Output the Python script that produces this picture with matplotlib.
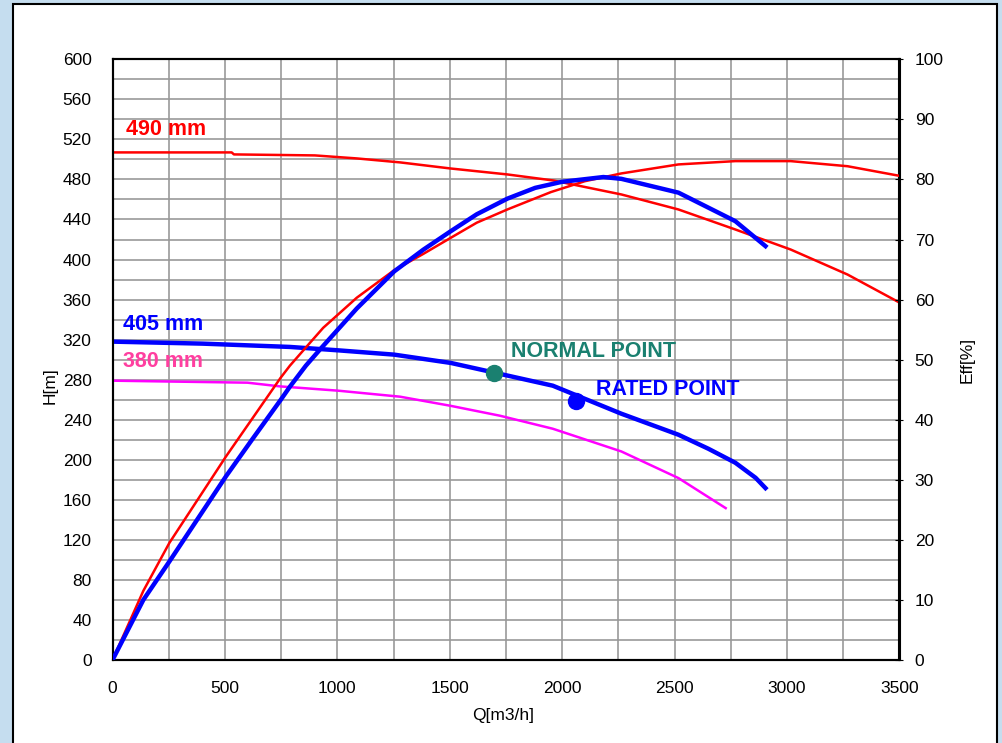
import matplotlib.pyplot as plt
from matplotlib.patches import Rectangle
from matplotlib.ticker import MultipleLocator

plt.rcParams['font.family'] = ['Liberation Sans', 'DejaVu Sans']

# head curves (Q in m3/h, H in m)
q_490 = [0, 530, 540, 900, 1086, 1280, 1501, 1756, 1959, 2263, 2517, 2770, 3016, 3269, 3500]
h_490 = [507, 507, 505, 504, 501, 497, 491, 485, 479, 465, 450, 430, 410, 385, 357]

q_405 = [0, 400, 789, 1004, 1253, 1505, 1679, 1958, 2263, 2517, 2650, 2770, 2860, 2904]
h_405 = [318, 316, 312.7, 309.3, 305, 296.7, 288, 274, 246, 225, 211, 197, 182, 171.7]

q_380 = [0, 600, 745, 1004, 1279, 1501, 1723, 1958, 2263, 2517, 2727]
h_380 = [279, 277, 273.3, 269, 263, 254, 244, 231, 208.3, 181.7, 151.7]

# efficiency curves (%)
qe_490 = [0, 137, 253, 505, 748, 789, 864, 937, 1086, 1253, 1382, 1505, 1620, 1756,
          1950, 2100, 2263, 2517, 2770, 3016, 3269, 3500]
eff_490 = [0, 11.5, 19.5, 33.9, 47, 49, 52.2, 55.3, 60.3, 64.9, 67.6, 70.3, 72.8, 75,
           77.9, 79.7, 81, 82.5, 83.05, 83.05, 82.2, 80.6]

qe_405 = [0, 137, 253, 505, 617, 748, 789, 860, 930, 1086, 1253, 1382, 1505, 1620, 1756,
          1880, 1998, 2183, 2263, 2517, 2770, 2904]
eff_405 = [0, 10, 16.4, 30.6, 36.5, 43.3, 45.5, 49, 52, 58.5, 64.7, 68.3, 71.4, 74.2, 76.8,
           78.6, 79.6, 80.4, 80.1, 77.8, 73.05, 68.9]

normal_pt = (1695, 287)
rated_pt = (2060, 259)

fig = plt.figure(figsize=(10.02, 7.43), dpi=100, facecolor='#c5ddef')
fig.patches.append(Rectangle((13 / 1002, -0.01), 984 / 1002, 1 - 4 / 743 + 0.01,
                             transform=fig.transFigure, facecolor='white',
                             edgecolor='black', linewidth=1.5, zorder=-10))

ax = fig.add_axes([112.5 / 1002, 1 - 660 / 743, 787 / 1002, 600.7 / 743])
ax2 = ax.twinx()

ax.set_xlim(0, 3500)
ax.set_ylim(0, 600)
ax2.set_ylim(0, 100)
ax.xaxis.set_major_locator(MultipleLocator(500))
ax.xaxis.set_minor_locator(MultipleLocator(250))
ax.yaxis.set_major_locator(MultipleLocator(40))
ax.yaxis.set_minor_locator(MultipleLocator(20))
ax2.yaxis.set_major_locator(MultipleLocator(10))
ax.grid(True, which='both', color='#999999', linewidth=1.2)
ax.set_axisbelow(True)

ax.tick_params(which='both', length=0, labelsize=12.5, pad=15)
ax2.tick_params(length=6, direction='inout', labelsize=12.5, pad=8)
for a in (ax, ax2):
    for s in a.spines.values():
        s.set_linewidth(1.5)

ax.plot(q_490, h_490, color='#ff0000', lw=1.8, zorder=3)
ax.plot(q_405, h_405, color='#0000ff', lw=3.2, zorder=3)
ax.plot(q_380, h_380, color='#ff00ff', lw=1.8, zorder=3)
ax2.plot(qe_490, eff_490, color='#ff0000', lw=1.8, zorder=3)
ax2.plot(qe_405, eff_405, color='#0000ff', lw=3.2, zorder=3)

ax2.plot(*normal_pt, 'o', color='#1a8070', ms=11.5, transform=ax.transData, zorder=4)
ax2.plot(*rated_pt, 'o', color='#0000ff', ms=11.5, transform=ax.transData, zorder=4)

lbl = dict(fontsize=15.5, fontweight='bold', va='center')
ax.text(60, 530, '490 mm', color='#ff0000', **lbl)
ax.text(47, 335, '405 mm', color='#0000ff', **lbl)
ax.text(47, 298, '380 mm', color='#ff3fa0', **lbl)
ax.text(1772, 308, 'NORMAL POINT', color='#1a8070', **lbl)
ax.text(2150, 270, 'RATED POINT', color='#0000ff', **lbl)

ax.text(0.496, -0.0916, 'Q[m3/h]', transform=ax.transAxes, fontsize=12.5,
        ha='center', va='center')
ax.text(-0.0794, 0.456, 'H[m]', transform=ax.transAxes, fontsize=12.5,
        ha='center', va='center', rotation=90)
ax.text(1.086, 0.5, 'Eff[%]', transform=ax.transAxes, fontsize=12.5,
        ha='center', va='center', rotation=90)

fig.savefig('out.png', dpi=100, facecolor=fig.get_facecolor())
